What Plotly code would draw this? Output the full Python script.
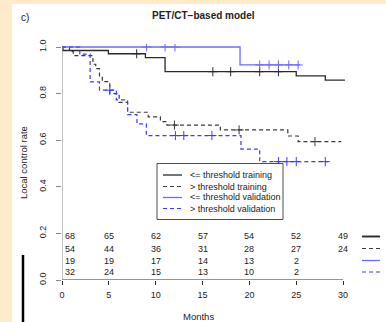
import plotly.graph_objects as go

# ---------------- data ----------------
t_le_train = [0, 0.1, 4.95, 8.9, 11.0, 25.0, 28.1, 30.2]
s_le_train = [1.0, 0.985, 0.971, 0.954, 0.894, 0.876, 0.858, 0.858]
c_le_train_t = [7.97, 16.1, 18.0, 21.1, 23.1]
c_le_train_s = [0.971, 0.894, 0.894, 0.894, 0.894]

t_gt_train = [0, 0.8, 1.2, 3.3, 3.6, 4.0, 4.3, 5.1, 6.1, 7.0, 9.2, 10.5, 11.2, 16.9, 24.1, 25.2, 29.8]
s_gt_train = [1.0, 0.981, 0.963, 0.926, 0.907, 0.87, 0.851, 0.80, 0.762, 0.72, 0.70, 0.68, 0.665, 0.644, 0.618, 0.594, 0.594]
c_gt_train_t = [12.0, 18.9, 27.0]
c_gt_train_s = [0.665, 0.644, 0.594]

t_le_val = [0, 19.0, 25.4]
s_le_val = [1.0, 0.923, 0.923]
c_le_val_t = [9.03, 11.0, 12.06, 21.1, 22.1, 23.1, 24.2, 25.2]
c_le_val_s = [1.0, 1.0, 1.0, 0.923, 0.923, 0.923, 0.923, 0.923]

t_gt_val = [0, 1.9, 3.0, 4.0, 5.8, 7.0, 8.0, 9.0, 19.1, 21.1, 28.4]
s_gt_val = [1.0, 0.969, 0.85, 0.815, 0.773, 0.71, 0.67, 0.62, 0.562, 0.508, 0.508]
c_gt_val_t = [5.1, 12.1, 13.0, 16.0, 23.1, 24.0, 25.0, 28.1]
c_gt_val_s = [0.815, 0.62, 0.62, 0.62, 0.508, 0.508, 0.508, 0.508]

risk_times = [0, 5, 10, 15, 20, 25, 30]
risk_le_train = ["68", "65", "62", "57", "54", "52", "49"]
risk_gt_train = ["54", "44", "36", "31", "28", "27", "24"]
risk_le_val = ["19", "19", "17", "14", "13", "2", ""]
risk_gt_val = ["32", "24", "15", "13", "10", "2", ""]

legend_labels = ["<= threshold training", "> threshold training",
                 "<= threshold validation", "> threshold validation"]
x_ticks = [0, 5, 10, 15, 20, 25, 30]
y_ticks = [0.0, 0.2, 0.4, 0.6, 0.8, 1.0]
y_tick_text = ["0.0", "0.2", "0.4", "0.6", "0.8", "1.0"]

# ---------------- style ----------------
FONT = "Liberation Sans, Arial, sans-serif"
TXT = "#222222"
BLACK = "#2a2a2a"
GREY = "#3a3a3a"
BLUE = "#3a3aff"
BLUE_L = "#6a6aff"
DASH = "4px,3px"

W, H = 386, 322
L, R, T, B = 62, 40, 44, 42
PW, PH = W - L - R, H - T - B
XS = 9.37   # px per month
YS = 233.0  # px per unit


def px(x):
    return (x - L) / PW


def py(y):
    return (H - B - y) / PH


series = [
    (t_le_train, s_le_train, c_le_train_t, c_le_train_s, BLACK, "solid", 1.3),
    (t_gt_train, s_gt_train, c_gt_train_t, c_gt_train_s, GREY, DASH, 1.2),
    (t_le_val, s_le_val, c_le_val_t, c_le_val_s, BLUE_L, "solid", 1.3),
    (t_gt_val, s_gt_val, c_gt_val_t, c_gt_val_s, BLUE, DASH, 1.2),
]

fig = go.Figure()
for (t, s, ct, cs, col, dash, w), name in zip(series, legend_labels):
    fig.add_trace(go.Scatter(x=t, y=s, mode="lines", line=dict(color=col, dash=dash, width=w, shape="hv"),
                             name=name, showlegend=False, hoverinfo="skip"))
    fig.add_trace(go.Scatter(x=ct, y=cs, mode="markers",
                             marker=dict(symbol="cross-thin", size=6.5, line=dict(color=col, width=1)),
                             showlegend=False, hoverinfo="skip"))

shapes = []
ann = []
# white panel over beige background
shapes.append(dict(type="rect", xref="paper", yref="paper", x0=px(12), x1=px(W + 5), y0=py(4), y1=py(H + 5),
                   fillcolor="white", line=dict(width=0), layer="below"))
# axis lines
shapes.append(dict(type="line", xref="x", yref="y", x0=0, x1=30, y0=0, y1=0, line=dict(color=BLACK, width=1)))
shapes.append(dict(type="line", xref="x", yref="y", x0=0, x1=0, y0=0, y1=1, line=dict(color="#888888", width=1)))
# black bar artifact on the left
shapes.append(dict(type="line", xref="paper", yref="paper", x0=px(23), x1=px(23), y0=py(255), y1=py(H + 5),
                   line=dict(color="black", width=2.5)))

# legend box
shapes.append(dict(type="rect", xref="paper", yref="paper", x0=px(157), x1=px(283), y0=py(163.5), y1=py(219.5),
                   fillcolor="white", line=dict(color=TXT, width=0.8)))
leg_y = [175, 186.5, 197.5, 208.5]
for (t, s, ct, cs, col, dash, w), lab, yy in zip(series, legend_labels, leg_y):
    shapes.append(dict(type="line", xref="paper", yref="paper", x0=px(163), x1=px(182), y0=py(yy), y1=py(yy),
                       line=dict(color=col, dash=dash, width=w)))
    ann.append(dict(xref="paper", yref="paper", x=px(188), y=py(yy), text=lab, showarrow=False,
                    xanchor="left", yanchor="middle", font=dict(size=9, color=TXT, family=FONT)))

# at-risk table
risk_rows = [risk_le_train, risk_gt_train, risk_le_val, risk_gt_val]
risk_y = [236.5, 248.5, 260.5, 272]
for row, yy, (t, s, ct, cs, col, dash, w) in zip(risk_rows, risk_y, series):
    for tt, txt in zip(risk_times, row):
        if not txt:
            continue
        ann.append(dict(xref="x", yref="paper", x=tt, y=py(yy), text=txt, showarrow=False,
                        xanchor="left" if tt == 0 else "center", xshift=1 if tt == 0 else 0,
                        yanchor="middle", font=dict(size=9, color=TXT, family=FONT)))
    shapes.append(dict(type="line", xref="paper", yref="paper", x0=px(362), x1=px(380), y0=py(yy), y1=py(yy),
                       line=dict(color=col, dash=dash, width=w + (0.6 if col == BLACK else 0))))

# titles
ann.append(dict(xref="paper", yref="paper", x=px(203), y=py(15), text="<b>PET/CT\u2212based model</b>",
                showarrow=False, xanchor="center", yanchor="middle", font=dict(size=10, color=TXT, family=FONT)))
ann.append(dict(xref="paper", yref="paper", x=px(25), y=py(17), text="c)", showarrow=False,
                xanchor="center", yanchor="middle", font=dict(size=10, color=TXT, family=FONT)))
ann.append(dict(xref="paper", yref="paper", x=px(23), y=py(163), text="Local control rate", showarrow=False,
                textangle=-90, xanchor="center", yanchor="middle", font=dict(size=9.5, color=TXT, family=FONT)))
ann.append(dict(xref="paper", yref="paper", x=px(198), y=py(316), text="Months", showarrow=False,
                xanchor="center", yanchor="middle", font=dict(size=9.5, color=TXT, family=FONT)))

fig.update_layout(
    width=W, height=H,
    margin=dict(l=L, r=R, t=T, b=B, pad=0),
    paper_bgcolor="#fdebcc",
    plot_bgcolor="rgba(0,0,0,0)",
    shapes=shapes, annotations=ann,
    showlegend=False,
    xaxis=dict(range=[0, PW / XS], showgrid=False, zeroline=False, showline=False,
               tickvals=x_ticks, ticks="outside", ticklen=4, tickcolor=BLACK, tickwidth=1,
               tickfont=dict(size=9, color=TXT, family=FONT), ticklabelstandoff=2),
    yaxis=dict(range=[0, PH / YS], showgrid=False, zeroline=False, showline=False,
               tickvals=y_ticks, ticktext=y_tick_text, ticks="outside", ticklen=5, tickcolor="#888888",
               tickwidth=1, tickangle=-90, tickfont=dict(size=9, color=TXT, family=FONT), ticklabelstandoff=6),
)

fig.write_html("out.html")
